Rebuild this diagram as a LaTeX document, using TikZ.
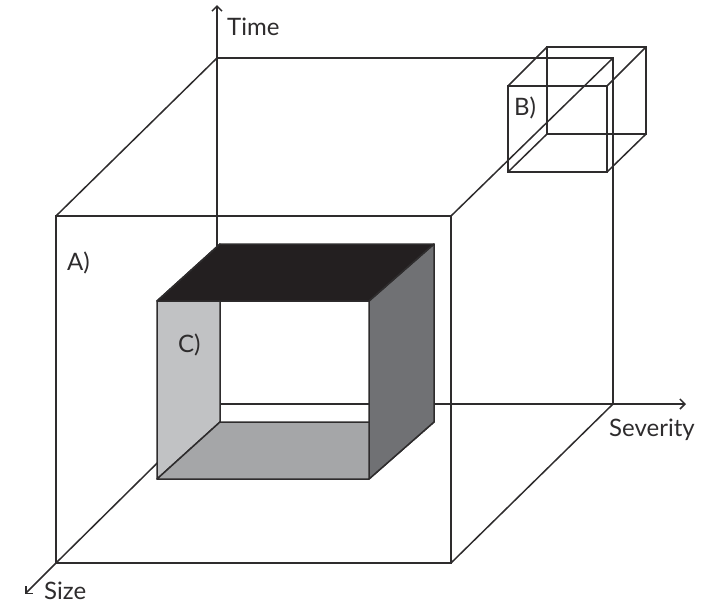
\documentclass[tikz,border=0pt]{standalone}
\usepackage{fontspec}
\setmainfont{Lato}
\usetikzlibrary{arrows.meta}
\definecolor{ln}{HTML}{2E2C2D}
\definecolor{topc}{HTML}{231F20}
\definecolor{leftc}{HTML}{C1C2C4}
\definecolor{botc}{HTML}{A5A6A8}
\definecolor{rightc}{HTML}{707174}
\begin{document}
\begin{tikzpicture}[x=1pt,y=-1pt,
  edge/.style={draw=ln, line width=1.5pt},
  axis/.style={edge, -{Straight Barb[length=5pt,width=10pt]}},
  face/.style={draw=ln, line width=1.5pt, line join=round},
  lbl/.style={font=\fontsize{24}{28}\selectfont, text=ln, inner sep=0pt, anchor=base west}]
\useasboundingbox (0,0) rectangle (713,603);
% big cube
\coordinate (F1) at (56,216); \coordinate (F2) at (451,216);
\coordinate (F3) at (451,563); \coordinate (F4) at (56,563);
\coordinate (K1) at (217,58); \coordinate (K2) at (613,58);
\coordinate (K3) at (613,404); \coordinate (K4) at (217,404);
\coordinate (timetip) at (217,5);
\coordinate (sevtip) at (686,404);
\coordinate (sizetip) at (25,594);
\draw[edge] (F1) -- (F2) -- (F3) -- (F4) -- cycle;
\draw[edge] (K1) -- (K2) -- (K3) -- (K4) -- cycle;
\draw[edge] (F1) -- (K1);
\draw[edge] (F2) -- (K2);
\draw[edge] (F3) -- (K3);
\draw[edge] (F4) -- (K4);
\draw[axis] (K1) -- (timetip);
\draw[axis] (K3) -- (sevtip);
\draw[axis] (F4) -- (sizetip);
% box B
\coordinate (B1) at (508,86); \coordinate (B2) at (607,86);
\coordinate (B3) at (607,172); \coordinate (B4) at (508,172);
\coordinate (E1) at (547,47); \coordinate (E2) at (646,47);
\coordinate (E3) at (646,134); \coordinate (E4) at (547,134);
\draw[edge] (B1) -- (B2) -- (B3) -- (B4) -- cycle;
\draw[edge] (E1) -- (E2) -- (E3) -- (E4) -- cycle;
\draw[edge] (B1) -- (E1);
\draw[edge] (B2) -- (E2);
\draw[edge] (B3) -- (E3);
\draw[edge] (B4) -- (E4);
% box C
\coordinate (c1) at (157,301); \coordinate (c2) at (369,301);
\coordinate (c3) at (369,479); \coordinate (c4) at (157,479);
\coordinate (d1) at (220,244); \coordinate (d2) at (434,244);
\coordinate (d3) at (434,422); \coordinate (d4) at (220,422);
\filldraw[face, fill=leftc] (c1) -- (c4) -- (d4) -- (d1) -- cycle;
\filldraw[face, fill=botc] (c4) -- (c3) -- (d3) -- (d4) -- cycle;
\filldraw[face, fill=rightc] (c2) -- (c3) -- (d3) -- (d2) -- cycle;
\filldraw[face, fill=topc] (c1) -- (c2) -- (d2) -- (d1) -- cycle;
% labels
\node[lbl] (tlab) at (227,35) {Time};
\node[lbl] (slab) at (609,436) {Severity};
\node[lbl] (zlab) at (44,599) {Size};
\node[lbl] (alab) at (67,270) {A)};
\node[lbl] (blab) at (514,115) {B)};
\node[lbl] (clab) at (178,352) {C)};
\end{tikzpicture}
\end{document}
